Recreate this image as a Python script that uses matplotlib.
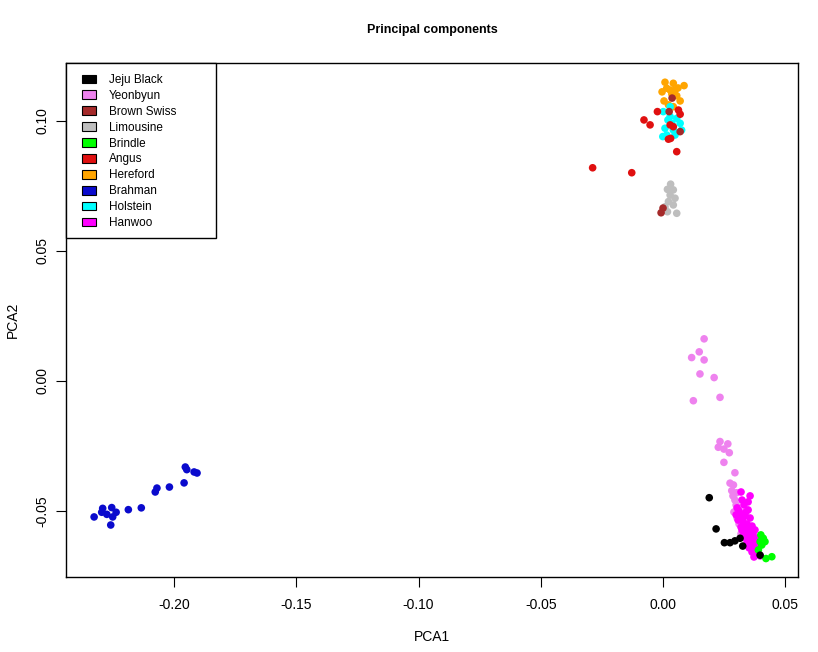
import matplotlib
matplotlib.use("Agg")
import matplotlib.pyplot as plt
from matplotlib.patches import Patch, Rectangle

plt.rcParams['font.family'] = ['Liberation Sans', 'DejaVu Sans']

breeds = ["Jeju Black", "Yeonbyun", "Brown Swiss", "Limousine", "Brindle",
          "Angus", "Hereford", "Brahman", "Holstein", "Hanwoo"]
colors = {"Jeju Black": "#000000", "Yeonbyun": "#EE82EE", "Brown Swiss": "#A52A2A",
          "Limousine": "#BEBEBE", "Brindle": "#00FF00", "Angus": "#E01010",
          "Hereford": "#FFA500", "Brahman": "#0A0ACD", "Holstein": "#00FFFF",
          "Hanwoo": "#FF00FF"}

hereford_x = [0.0008, 0.0042, 0.0015, 0.0049, 0.0086, 0.0036, 0.0056, 0.0070, 0.0004, 0.0022, 0.0042, -0.0004, 0.0061, 0.0029]
hereford_y = [0.1149, 0.1145, 0.1126, 0.1119, 0.1136, 0.1103, 0.1097, 0.1077, 0.1077, 0.1062, 0.1055, 0.1112, 0.1127, 0.1119]

holstein_x = [0.0029, 0.0001, 0.0029, 0.0056, 0.0036, 0.0070, 0.0008, 0.0042, 0.0076, 0.0015, 0.0049, -0.0001, 0.0020]
holstein_y = [0.1055, 0.1036, 0.1017, 0.1010, 0.0991, 0.0991, 0.0972, 0.0965, 0.0965, 0.0946, 0.0946, 0.0940, 0.1004]

angus_x = [-0.0023, 0.0063, 0.0070, -0.0078, -0.0053, 0.0029, 0.0042, 0.0022, 0.0031, 0.0056, -0.0288, -0.0128]
angus_y = [0.1036, 0.1042, 0.1026, 0.1004, 0.0985, 0.0985, 0.0978, 0.0930, 0.0933, 0.0882, 0.0820, 0.0801]

limousine_x = [0.0031, 0.0018, 0.0042, 0.0029, 0.0049, 0.0022, 0.0042, 0.0008, 0.0056, 0.0018, 0.0001]
limousine_y = [0.0757, 0.0737, 0.0735, 0.0715, 0.0703, 0.0690, 0.0677, 0.0670, 0.0645, 0.0651, 0.0660]

brownswiss_x = [-0.0008, 0.0000, 0.0025, 0.0070, 0.0037]
brownswiss_y = [0.0647, 0.0665, 0.1036, 0.0959, 0.1088]

yeonbyun_x = [0.0168, 0.0148, 0.0117, 0.0168, 0.0151, 0.0209, 0.0124, 0.0233, 0.0233, 0.0265,
              0.0226, 0.0249, 0.0271, 0.0249, 0.0294, 0.0274, 0.0288, 0.0281, 0.0301, 0.0286,
              0.0294, 0.0299, 0.0290, 0.0303, 0.0311, 0.0319, 0.0331]
yeonbyun_y = [0.0162, 0.0112, 0.0090, 0.0081, 0.0027, 0.0013, -0.0076, -0.0063, -0.0233, -0.0242,
              -0.0255, -0.0262, -0.0276, -0.0313, -0.0353, -0.0393, -0.0400, -0.0422, -0.0430, -0.0442,
              -0.0458, -0.0477, -0.0504, -0.0527, -0.0550, -0.0588, -0.0558]

hanwoo_x = [0.0319, 0.0356, 0.0323, 0.0303, 0.0331, 0.0348, 0.0315, 0.0335, 0.0356, 0.0307,
            0.0327, 0.0344, 0.0364, 0.0319, 0.0339, 0.0356, 0.0376, 0.0331, 0.0348, 0.0364,
            0.0335, 0.0356, 0.0372, 0.0344, 0.0360, 0.0376, 0.0352, 0.0368, 0.0384, 0.0364,
            0.0380, 0.0397, 0.0311, 0.0339, 0.0327, 0.0352, 0.0368, 0.0384, 0.0323, 0.0393,
            0.0372, 0.0348, 0.0299]
hanwoo_y = [-0.0427, -0.0442, -0.0458, -0.0488, -0.0477, -0.0496, -0.0512, -0.0519, -0.0527, -0.0535,
            -0.0542, -0.0550, -0.0558, -0.0562, -0.0569, -0.0577, -0.0573, -0.0585, -0.0592, -0.0600,
            -0.0604, -0.0612, -0.0615, -0.0623, -0.0631, -0.0635, -0.0642, -0.0650, -0.0646, -0.0658,
            -0.0665, -0.0673, -0.0500, -0.0504, -0.0527, -0.0565, -0.0585, -0.0604, -0.0573, -0.0631,
            -0.0677, -0.0465, -0.0515]

brindle_x = [0.0400, 0.0410, 0.0397, 0.0417, 0.0404, 0.0421, 0.0445, 0.0390]
brindle_y = [-0.0592, -0.0605, -0.0618, -0.0618, -0.0631, -0.0683, -0.0676, -0.0650]

jeju_x = [0.0189, 0.0217, 0.0251, 0.0274, 0.0294, 0.0315, 0.0326, 0.0397]
jeju_y = [-0.0449, -0.0569, -0.0622, -0.0622, -0.0615, -0.0605, -0.0635, -0.0670]

brahman_x = [-0.2327, -0.2292, -0.2296, -0.2275, -0.2255, -0.2251, -0.2237, -0.2259, -0.2187, -0.2134,
             -0.2077, -0.2070, -0.2019, -0.1959, -0.1954, -0.1948, -0.1918, -0.1906]
brahman_y = [-0.0523, -0.0490, -0.0505, -0.0513, -0.0487, -0.0523, -0.0505, -0.0554, -0.0495, -0.0488,
             -0.0427, -0.0412, -0.0408, -0.0392, -0.0331, -0.0341, -0.0350, -0.0354]

x_ticks = [-0.20, -0.15, -0.10, -0.05, 0.00, 0.05]
y_ticks = [-0.05, 0.00, 0.05, 0.10]

series = [("Hereford", hereford_x, hereford_y), ("Holstein", holstein_x, holstein_y),
          ("Angus", angus_x, angus_y), ("Limousine", limousine_x, limousine_y),
          ("Brown Swiss", brownswiss_x, brownswiss_y), ("Yeonbyun", yeonbyun_x, yeonbyun_y),
          ("Hanwoo", hanwoo_x, hanwoo_y), ("Brindle", brindle_x, brindle_y),
          ("Jeju Black", jeju_x, jeju_y), ("Brahman", brahman_x, brahman_y)]

fig = plt.figure(figsize=(8.18, 6.52), dpi=100)
AX_L, AX_R, AX_T, AX_B = 66, 798, 63, 577
ax = fig.add_axes([AX_L/818, 1-AX_B/652, (AX_R-AX_L)/818, (AX_B-AX_T)/652])
axw, axh = AX_R - AX_L, AX_B - AX_T

for name, xs, ys in series:
    ax.scatter(xs, ys, s=30, color=colors[name], edgecolors='none', zorder=3)

ax.set_xlim(-0.2442, 0.0552)
ax.set_ylim(-0.0754, 0.1223)
ax.set_xticks(x_ticks)
ax.set_xticklabels([f"{v:.2f}" for v in x_ticks])
ax.set_yticks(y_ticks)
ax.set_yticklabels([f"{v:.2f}" for v in y_ticks], rotation=90, va='center')
ax.tick_params(axis='both', direction='out', length=7, width=0.8, labelsize=10)
ax.tick_params(axis='x', pad=8)
ax.tick_params(axis='y', pad=5)
for sp in ax.spines.values():
    sp.set_linewidth(1.0)
    sp.set_color('black')

ax.set_xlabel("PCA1", fontsize=10, labelpad=13)
ax.set_ylabel("PCA2", fontsize=10, labelpad=11)
fig.text(432/818, 1-30/652, "Principal components", ha='center', va='center',
         fontsize=9, fontweight='bold')

# legend box (R-style, extra right padding)
ax.add_patch(Rectangle((0, 1-(238-AX_T)/axh), (216-AX_L)/axw, (238-AX_T)/axh,
                       transform=ax.transAxes, facecolor='white', edgecolor='black',
                       linewidth=1.0, zorder=4, clip_on=False))
handles = [Patch(facecolor=colors[b], edgecolor='black', linewidth=0.8) for b in breeds]
leg = ax.legend(handles, breeds, loc='upper left',
                bbox_to_anchor=((82-AX_L)/axw, 1-(74-AX_T)/axh), borderaxespad=0,
                frameon=False, fontsize=8.5, borderpad=0,
                handlelength=1.2, handleheight=0.76, handletextpad=1.1, labelspacing=0.33)
leg.set_zorder(5)

fig.savefig("out.png", dpi=100)
